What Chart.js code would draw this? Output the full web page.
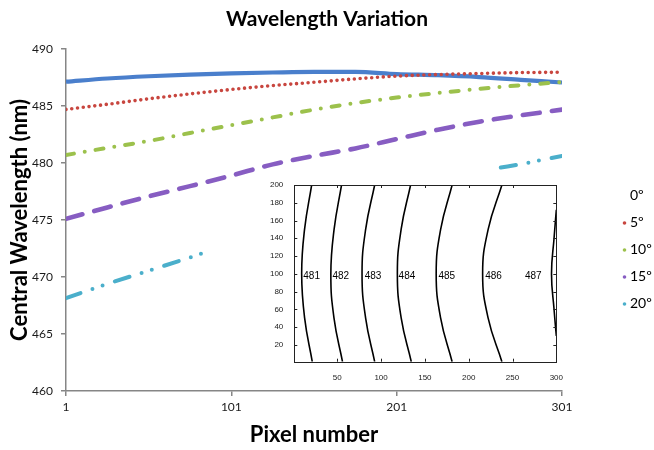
<!DOCTYPE html>
<html><head><meta charset="utf-8">
<script src="https://cdn.jsdelivr.net/npm/chart.js@4"></script>
<style>
html,body{margin:0;padding:0;background:#fff;}
#wrap{position:relative;width:654px;height:450px;overflow:hidden;}
#main{position:absolute;left:0;top:0;}
#inset{position:absolute;left:250px;top:176px;background:#fff;}
</style></head><body>
<div id="wrap"><canvas id="main" width="654" height="450"></canvas><canvas id="inset" width="316" height="210"></canvas></div>
<script>
// ---------- main chart data ----------
const pixels = [1, 26, 51, 76, 101, 126, 151, 176, 201, 226, 251, 276, 301];
const deg0  = [487.13, 487.41, 487.61, 487.76, 487.87, 487.94, 487.99, 487.99, 487.80, 487.70, 487.54, 487.30, 487.06];
const deg5  = [484.70, 485.15, 485.63, 486.06, 486.45, 486.79, 487.08, 487.38, 487.62, 487.76, 487.85, 487.93, 487.96];
const deg10 = [480.70, 481.33, 481.93, 482.63, 483.32, 484.00, 484.68, 485.26, 485.74, 486.14, 486.50, 486.82, 487.10];
const deg15 = [475.10, 476.10, 477.07, 477.97, 478.90, 479.88, 480.62, 481.28, 482.10, 482.92, 483.62, 484.18, 484.68];
const deg20Pixels = [1, 26, 51, 76, 88, 176, 264, 276, 301];
const deg20 = [468.14, 469.40, 470.55, 471.72, 472.31, null, 479.60, 479.90, 480.62];
const seriesLabels = ['0º', '5º', '10º', '15º', '20º'];
const xTicks = [1, 101, 201, 301];
const yTicks = [460, 465, 470, 475, 480, 485, 490];

// ---------- inset contour data ----------
const insetXTicks = [50, 100, 150, 200, 250, 300];
const insetYTicks = [20, 40, 60, 80, 100, 120, 140, 160, 180, 200];
const contourLevels = ['481', '482', '483', '484', '485', '486', '487'];
const contourRows = [1, 50, 100, 150, 200];
const contour481 = [21.5, 12.8, 9.4, 12.7, 20.8];
const contour482 = [56.0, 46.3, 42.7, 46.4, 54.9];
const contour483 = [92.7, 82.4, 78.3, 82.4, 92.7];
const contour484 = [134.5, 123.0, 118.6, 122.9, 133.7];
const contour485 = [181.1, 168.0, 162.9, 168.0, 181.1];
const contour486 = [237.9, 222.2, 215.9, 222.2, 237.9];
const contour487Rows = [30, 60, 100, 140, 172];
const contour487 = [300, 297.4, 294.5, 297.4, 300];
const contourLabelX = [20.8, 54, 90.8, 129.5, 175, 228.3, 273.7];
const contourLabelY = 97;

const toXY = (xs, ys) => xs.map((x, i) => ({x: x, y: ys[i]}));

const FONT = 'Lato';
const AXIS = '#868686';

const lineBase = {pointRadius: 0, fill: false, cubicInterpolationMode: 'monotone', spanGaps: false};

const datasets = [
  Object.assign({label: seriesLabels[0], data: toXY(pixels, deg0), borderColor: '#4A7FCC', backgroundColor: '#4A7FCC', borderWidth: 4.2, order: 4, legendDot: false}, lineBase),
  Object.assign({label: seriesLabels[1], data: toXY(pixels, deg5), borderColor: '#C8463F', backgroundColor: '#C8463F', borderWidth: 3.6, borderDash: [0, 5.8], borderCapStyle: 'round', order: 3, legendDot: true}, lineBase),
  Object.assign({label: seriesLabels[2], data: toXY(pixels, deg10), borderColor: '#9CC14C', backgroundColor: '#9CC14C', borderWidth: 4, borderDash: [8, 11, 0, 11], borderCapStyle: 'round', order: 2, legendDot: true}, lineBase),
  Object.assign({label: seriesLabels[3], data: toXY(pixels, deg15), borderColor: '#875DC2', backgroundColor: '#875DC2', borderWidth: 4.6, borderDash: [17, 12.3], borderCapStyle: 'round', order: 1, legendDot: true}, lineBase),
  Object.assign({label: seriesLabels[4], data: toXY(deg20Pixels, deg20), borderColor: '#4BAFCB', backgroundColor: '#4BAFCB', borderWidth: 4, borderDash: [15.3, 12.7, 0, 10.7, 0, 13], borderCapStyle: 'round', order: 0, legendDot: true}, lineBase)
];

const sideLegend = {
  id: 'sideLegend',
  afterDraw(chart) {
    const ctx = chart.ctx;
    ctx.save();
    ctx.font = '14px ' + FONT;
    ctx.textBaseline = 'middle';
    ctx.textAlign = 'left';
    chart.data.datasets.forEach((ds, i) => {
      const y = 195 + i * 27;
      if (ds.legendDot) {
        ctx.beginPath();
        ctx.fillStyle = ds.borderColor;
        ctx.arc(624.5, y + 1, 1.8, 0, Math.PI * 2);
        ctx.fill();
      }
      ctx.fillStyle = '#000';
      ctx.fillText(ds.label, 630, y);
    });
    ctx.restore();
  }
};

const mainChart = new Chart(document.getElementById('main'), {
  type: 'line',
  data: {datasets: datasets},
  options: {
    responsive: false, animation: false, devicePixelRatio: 1,
    layout: {padding: 0},
    plugins: {
      legend: {display: false}, tooltip: {enabled: false},
      title: {display: true, text: 'Wavelength Variation', color: '#000',
        font: {family: FONT, size: 21, weight: 'bold'}, padding: {top: 6.4, bottom: 17.4}}
    },
    scales: {
      x: {type: 'linear', min: 1, max: 301,
        afterBuildTicks: s => { s.ticks = xTicks.map(v => ({value: v})); },
        afterFit: s => { s.height = 59; },
        border: {display: true, color: AXIS, width: 1.5},
        grid: {display: true, drawOnChartArea: false, drawTicks: true, tickLength: 5, color: AXIS, lineWidth: 1.5},
        ticks: {font: {family: FONT, size: 12}, color: '#1a1a1a', padding: 4, maxRotation: 0, autoSkip: false},
        title: {display: true, text: 'Pixel number', color: '#000', font: {family: FONT, size: 22, weight: 'bold'}, padding: {top: 0, bottom: 1.8}}
      },
      y: {type: 'linear', min: 460, max: 490,
        afterBuildTicks: s => { s.ticks = yTicks.map(v => ({value: v})); },
        afterFit: s => { s.width = 66; },
        border: {display: true, color: AXIS, width: 1.5},
        grid: {display: true, drawOnChartArea: false, drawTicks: true, tickLength: 5, color: AXIS, lineWidth: 1.5},
        ticks: {font: {family: FONT, size: 12}, color: '#1a1a1a', padding: 8},
        title: {display: true, text: 'Central Wavelength (nm)', color: '#000', font: {family: FONT, size: 22, weight: 'bold'}, padding: {top: 7, bottom: 0}}
      },
      yR: {type: 'linear', position: 'right', display: true, min: 0, max: 1,
        grid: {display: false}, border: {display: false}, ticks: {display: false},
        afterFit: s => { s.width = 92; }
      }
    }
  },
  plugins: [sideLegend]
});

// ---------- inset ----------
const contourX = [contour481, contour482, contour483, contour484, contour485, contour486, contour487];
const contourDatasets = contourLevels.map((lvl, i) => ({
  label: lvl,
  data: toXY(contourX[i], i === 6 ? contour487Rows : contourRows),
  borderColor: '#000', borderWidth: 1.6, pointRadius: 0, fill: false,
  tension: 0.45
}));

const insetDecor = {
  id: 'insetDecor',
  afterDraw(chart) {
    const ctx = chart.ctx;
    const {left, top, right, bottom} = chart.chartArea;
    const xs = chart.scales.x, ys = chart.scales.y;
    ctx.save();
    ctx.strokeStyle = '#222';
    ctx.lineWidth = 1;
    ctx.strokeRect(Math.round(left) + 0.5, Math.round(top) + 0.5, Math.round(right - left), Math.round(bottom - top));
    ctx.beginPath();
    insetXTicks.forEach(v => {
      const px = Math.round(xs.getPixelForValue(v)) + 0.5;
      ctx.moveTo(px, bottom); ctx.lineTo(px, bottom - 3);
      ctx.moveTo(px, top); ctx.lineTo(px, top + 3);
    });
    insetYTicks.forEach(v => {
      const py = Math.round(ys.getPixelForValue(v)) + 0.5;
      ctx.moveTo(left, py); ctx.lineTo(left + 3, py);
      ctx.moveTo(right, py); ctx.lineTo(right - 3, py);
    });
    ctx.stroke();
    ctx.fillStyle = '#000';
    ctx.font = '10px "Liberation Sans"';
    ctx.textAlign = 'center';
    ctx.textBaseline = 'middle';
    contourLevels.forEach((lvl, i) => {
      ctx.fillText(lvl, xs.getPixelForValue(contourLabelX[i]), ys.getPixelForValue(contourLabelY));
    });
    ctx.restore();
  }
};

const insetChart = new Chart(document.getElementById('inset'), {
  type: 'line',
  data: {datasets: contourDatasets},
  options: {
    responsive: false, animation: false, devicePixelRatio: 1,
    layout: {padding: {top: 9, right: 8.7, left: 0, bottom: 0}},
    elements: {line: {capBezierPoints: false}},
    plugins: {legend: {display: false}, tooltip: {enabled: false}},
    scales: {
      x: {type: 'linear', position: 'bottom', min: 1, max: 300,
        afterBuildTicks: s => { s.ticks = insetXTicks.map(v => ({value: v})); },
        afterFit: s => { s.height = 24.3; },
        grid: {display: false}, border: {display: false},
        ticks: {font: {family: 'Liberation Sans', size: 8}, color: '#222', padding: 3, maxRotation: 0, autoSkip: false}
      },
      y: {type: 'linear', position: 'left', min: 1, max: 200,
        afterBuildTicks: s => { s.ticks = insetYTicks.map(v => ({value: v})); },
        afterFit: s => { s.width = 44.3; },
        grid: {display: false}, border: {display: false},
        ticks: {font: {family: 'Liberation Sans', size: 8}, color: '#222', padding: 3}
      }
    }
  },
  plugins: [insetDecor]
});

if (document.fonts && document.fonts.load) {
  Promise.all([
    document.fonts.load('bold 20px Lato'),
    document.fonts.load('14px Lato'),
    document.fonts.load('10px "Liberation Sans"')
  ]).then(() => { mainChart.update(); insetChart.update(); }).catch(() => {});
}
</script>
</body></html>
